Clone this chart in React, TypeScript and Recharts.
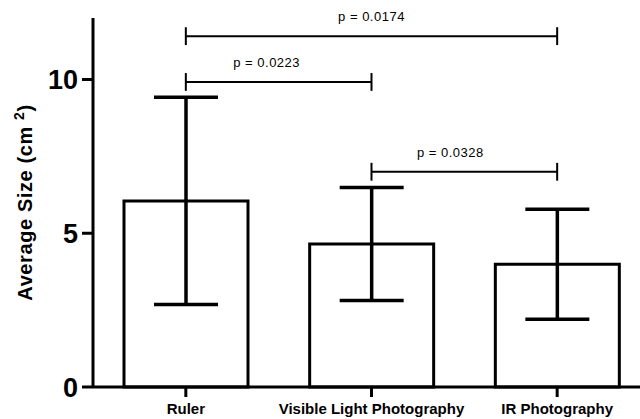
import { Bar, BarChart, ErrorBar, ReferenceLine, XAxis, YAxis } from 'recharts';

const categories = ['Ruler', 'Visible Light Photography', 'IR Photography'];
const means = [6.05, 4.65, 3.99];
const errors = [3.37, 1.84, 1.79];
const yTicks = [0, 5, 10];

// significance brackets: from category, to category, height, text
const bracketFrom = [0, 0, 1];
const bracketTo = [2, 1, 2];
const bracketY = [11.41, 9.92, 7.0];
const bracketText = ['p = 0.0174', 'p = 0.0223', 'p = 0.0328'];

const data = categories.map((name, i) => ({ name, mean: means[i], err: errors[i] }));

const FONT = '"Liberation Sans", Arial, sans-serif';
const labelShift = [0, -12, -14];
const capHalf = 0.29;

function YLabel({ viewBox }: any) {
    const cx = 32;
    const cy = viewBox.y + viewBox.height / 2;
    return (
        <text
            x={cx}
            y={cy}
            transform={`rotate(-90, ${cx}, ${cy})`}
            textAnchor="middle"
            fontFamily={FONT}
            fontWeight="bold"
            fontSize={20}
            letterSpacing={0.6}
            fill="#000"
        >
            Average Size (cm <tspan dy={-8} fontSize={14}>2</tspan>
            <tspan dy={8}>)</tspan>
        </text>
    );
}

export default function App() {
    return (
        <div style={{ position: 'fixed', left: 0, top: 0, width: 640, height: 419, overflow: 'hidden', background: '#fff' }}>
            <BarChart width={660} height={419} data={data} margin={{ top: 18, right: 10, left: 0, bottom: 2 }}>
                <XAxis
                    dataKey="name"
                    height={30}
                    axisLine={{ stroke: '#000', strokeWidth: 3 }}
                    tickLine={{ stroke: '#000', strokeWidth: 3 }}
                    tickSize={10}
                    tickMargin={6}
                    interval={0}
                    tick={{ fill: '#000', fontSize: 15, fontWeight: 'bold', fontFamily: FONT }}
                />
                <YAxis
                    width={93}
                    domain={[0, 12]}
                    ticks={yTicks}
                    axisLine={{ stroke: '#000', strokeWidth: 3 }}
                    tickLine={{ stroke: '#000', strokeWidth: 3 }}
                    tickSize={11}
                    tickMargin={4}
                    tick={{ fill: '#000', fontSize: 27, fontWeight: 'bold', fontFamily: FONT }}
                    label={{ content: YLabel }}
                />
                <Bar dataKey="mean" fill="#fff" stroke="#000" strokeWidth={3} barSize={124} isAnimationActive={false}>
                    <ErrorBar dataKey="err" width={32} stroke="#000" strokeWidth={3.5} isAnimationActive={false} />
                </Bar>
                {bracketY.map((y, i) => (
                    <ReferenceLine
                        key={`b${i}`}
                        segment={[
                            { x: categories[bracketFrom[i]], y },
                            { x: categories[bracketTo[i]], y },
                        ]}
                        stroke="#000"
                        strokeWidth={2}
                        label={{
                            value: bracketText[i],
                            position: 'top',
                            offset: 15,
                            dx: labelShift[i],
                            fill: '#000',
                            fontSize: 13,
                            letterSpacing: 0.5,
                            fontFamily: FONT,
                        }}
                    />
                ))}
                {bracketY.flatMap((y, i) =>
                    [bracketFrom[i], bracketTo[i]].map((c, j) => (
                        <ReferenceLine
                            key={`t${i}-${j}`}
                            segment={[
                                { x: categories[c], y: y - capHalf },
                                { x: categories[c], y: y + capHalf },
                            ]}
                            stroke="#000"
                            strokeWidth={2}
                        />
                    ))
                )}
            </BarChart>
        </div>
    );
}
